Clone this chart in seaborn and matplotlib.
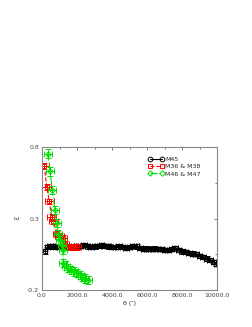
import matplotlib
matplotlib.use("Agg")
from matplotlib import pyplot as plt
from matplotlib.ticker import MultipleLocator, FormatStrFormatter
import pandas as pd
import seaborn as sns

# M45
m45_x = [150, 300, 450, 600, 800, 1000, 1200, 1400, 1600, 1800, 2000, 2200, 2400,
         2600, 2800, 3000, 3200, 3400, 3600, 3800, 4000, 4200, 4400, 4600, 4800,
         5000, 5200, 5400, 5600, 5800, 6000, 6200, 6400, 6600, 6800, 7000, 7200,
         7400, 7600, 7800, 8000, 8200, 8400, 8600, 8800, 9000, 9200, 9400, 9600,
         9800, 9950]
m45_y = [0.07, 0.10, 0.11, 0.105, 0.10, 0.10, 0.10, 0.105, 0.10, 0.11, 0.105, 0.11,
         0.115, 0.105, 0.10, 0.105, 0.11, 0.115, 0.11, 0.105, 0.10, 0.10, 0.105,
         0.10, 0.095, 0.10, 0.11, 0.105, 0.095, 0.09, 0.09, 0.085, 0.09, 0.085,
         0.085, 0.08, 0.08, 0.085, 0.095, 0.08, 0.07, 0.065, 0.06, 0.055, 0.05,
         0.04, 0.03, 0.02, 0.01, -0.005, -0.02]

# M36 & M38
m36_x = [130, 270, 420, 550, 650, 870, 1000, 1180, 1300, 1420, 1550, 1700, 1850, 2000]
m36_y = [0.67, 0.52, 0.42, 0.31, 0.28, 0.19, 0.18, 0.165, 0.12, 0.10, 0.105, 0.10,
         0.10, 0.10]

# M46 & M47
m46_x = [325, 460, 590, 740, 840, 930, 1030, 1120, 1180, 1220, 1350, 1500, 1650,
         1800, 1980, 2150, 2300, 2460, 2650]
m46_y = [0.755, 0.63, 0.50, 0.36, 0.27, 0.19, 0.15, 0.115, 0.08, -0.01, -0.03,
         -0.045, -0.06, -0.07, -0.08, -0.095, -0.11, -0.12, -0.13]

labels = ["M45", "M36 & M38", "M46 & M47"]

sns.set_style("white")
plt.rcParams["font.family"] = ["DejaVu Sans"]

fig = plt.figure(figsize=(2.53, 3.27), dpi=100)
ax = fig.add_axes([0.166, 0.113, 0.692, 0.437])

series = [
    (m45_x, m45_y, "black", "-", "o", 0.015, 150, 3.4),
    (m36_x, m36_y, "red", "--", "s", 0.02, 250, 3.0),
    (m46_x, m46_y, "#00dd00", "-.", "D", 0.03, 230, 2.8),
]
for (xs, ys, col, ls, mk, yerr, xerr, ms), lab in zip(series, labels):
    df = pd.DataFrame({"x": xs, "y": ys})
    ax.errorbar(df["x"], df["y"], xerr=xerr, yerr=yerr, fmt="none",
                ecolor=col, elinewidth=0.7, capsize=2.0, capthick=0.7)
    sns.lineplot(data=df, x="x", y="y", ax=ax, color=col, linestyle=ls,
                 marker=mk, markersize=ms, markerfacecolor="none",
                 markeredgecolor=col, markeredgewidth=0.7, linewidth=0.8,
                 sort=False, estimator=None, label=lab)

ax.set_xlim(0, 10000)
ax.set_ylim(-0.2, 0.8)
ax.xaxis.set_major_locator(MultipleLocator(2000))
ax.xaxis.set_minor_locator(MultipleLocator(1000))
ax.xaxis.set_major_formatter(FormatStrFormatter("%.1f"))
ax.yaxis.set_major_formatter(FormatStrFormatter("%.1f"))
ax.set_yticks([-0.2, 0.3, 0.8])
ax.set_yticks([0.05, 0.55], minor=True)
ax.tick_params(which="both", direction="in", top=True, right=True,
               labelsize=4.5, colors="#444444", width=0.5, pad=2)
ax.tick_params(which="major", length=2.5)
ax.tick_params(which="minor", length=1.5)
for sp in ax.spines.values():
    sp.set_color("#888888")
    sp.set_linewidth(0.8)

ax.set_xlabel("θ (″)", fontsize=4.5, labelpad=2)
ax.set_ylabel("ω", fontsize=4.5, rotation=0, labelpad=8, va="center")

leg = ax.legend(loc="upper left", bbox_to_anchor=(0.59, 0.95), frameon=False,
                fontsize=4.5, handlelength=2.6, numpoints=2,
                labelspacing=0.3, handletextpad=0.2, borderaxespad=0)

fig.savefig("out.png", dpi=100)
